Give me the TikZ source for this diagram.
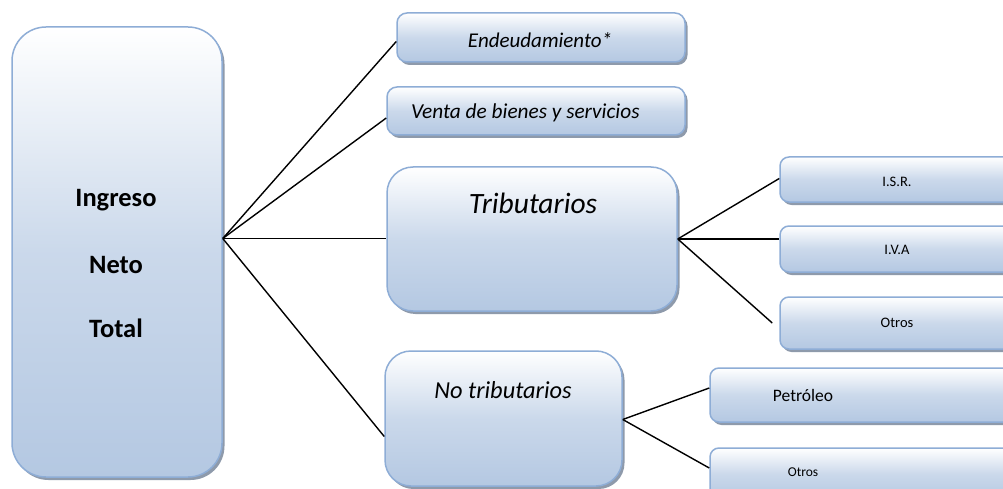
\documentclass[tikz,border=0pt]{standalone}
\usepackage{fontspec}
\setmainfont{Carlito}
\usetikzlibrary{shadows,calc}
\definecolor{boxblue}{HTML}{B4C8E2}
\definecolor{boxedge}{HTML}{8EADD6}
\definecolor{shadowgray}{HTML}{8E9AAB}
\tikzset{
  box/.style={draw=boxedge, line width=1.5pt, top color=white, bottom color=boxblue,
    middle color=boxblue!70, inner sep=0pt,
    drop shadow={shadow xshift=2.5pt, shadow yshift=-3pt, fill=shadowgray, opacity=1}},
  txt/.style={inner sep=0pt, text=black},
  conn/.style={draw=black, line width=1.4pt}
}
\newcommand{\boxat}[6]{% name, x1, y1, x2, y2, radius
  \node[box, rounded corners=#6, minimum width={(#4-#2)*1pt}, minimum height={(#5-#3)*1pt}] (#1) at ({(#2+#4)/2},{(#3+#5)/2}) {};}
\begin{document}
\begin{tikzpicture}[x=1pt,y=-1pt]
\clip (0,0) rectangle (1003,489);
\fill[white] (0,0) rectangle (1003,489);
% boxes
\boxat{main}{12}{27}{222}{477}{34pt}
\boxat{endeu}{397}{13}{685}{62}{10pt}
\boxat{venta}{387}{87}{685}{135}{10pt}
\boxat{trib}{387}{167}{677}{311}{26pt}
\boxat{notrib}{385}{351}{622}{486}{26pt}
\boxat{isr}{780}{157}{1016}{202}{9pt}
\boxat{iva}{780}{226}{1016}{272}{9pt}
\boxat{otros1}{780}{297}{1016}{349}{9pt}
\boxat{petro}{710}{368}{1016}{422}{9pt}
\boxat{otros2}{710}{448}{1016}{500}{9pt}
% texts
\node[txt, font=\fontsize{26.5}{30}\selectfont\bfseries] (t1) at (116,200) {Ingreso};
\node[txt, font=\fontsize{26.5}{30}\selectfont\bfseries] (t2) at (116,265) {Neto};
\node[txt, font=\fontsize{26.5}{30}\selectfont\bfseries] (t3) at (116,328) {Total};
\node[txt, font=\fontsize{21}{24}\selectfont\itshape] (tendeu) at (540,40) {Endeudamiento*};
\node[txt, font=\fontsize{21.3}{24}\selectfont\itshape, anchor=west] (tventa) at (411,113) {Venta de bienes y servicios};
\node[txt, font=\fontsize{29.5}{32}\selectfont\itshape] (ttrib) at (533,203) {Tributarios};
\node[txt, font=\fontsize{24.4}{28}\selectfont\itshape] (tnotrib) at (503,390) {No tributarios};
\node[txt, font=\fontsize{14.5}{17}\selectfont] (tisr) at (897,182) {I.S.R.};
\node[txt, font=\fontsize{14.5}{17}\selectfont] (tiva) at (897,250) {I.V.A};
\node[txt, font=\fontsize{14.5}{17}\selectfont] (totros1) at (897,323) {Otros};
\node[txt, font=\fontsize{17.5}{22}\selectfont] (tpetro) at (803,395) {Petróleo};
\node[txt, font=\fontsize{13.5}{16}\selectfont] (totros2) at (803,472) {Otros};
% connectors
\coordinate (hub) at ([yshift=13.5pt]main.east);
\coordinate (th) at (trib.east);
\coordinate (nh) at ([yshift=-1pt]notrib.east);
\draw[conn] (hub) -- ([yshift=-4pt]endeu.west);
\draw[conn] (hub) -- ([yshift=-7pt]venta.west);
\draw[conn] (hub) -- (hub -| trib.west);
\draw[conn] (hub) -- ([yshift=-18pt]notrib.west);
\draw[conn] (th) -- ([yshift=1pt]isr.west);
\draw[conn] (th) -- (th -| iva.west);
\draw[conn] (th) -- ([xshift=-7pt]otros1.west);
\draw[conn] (nh) -- ([yshift=7pt]petro.west);
\draw[conn] (nh) -- ([yshift=6pt]otros2.west);
\end{tikzpicture}
\end{document}
